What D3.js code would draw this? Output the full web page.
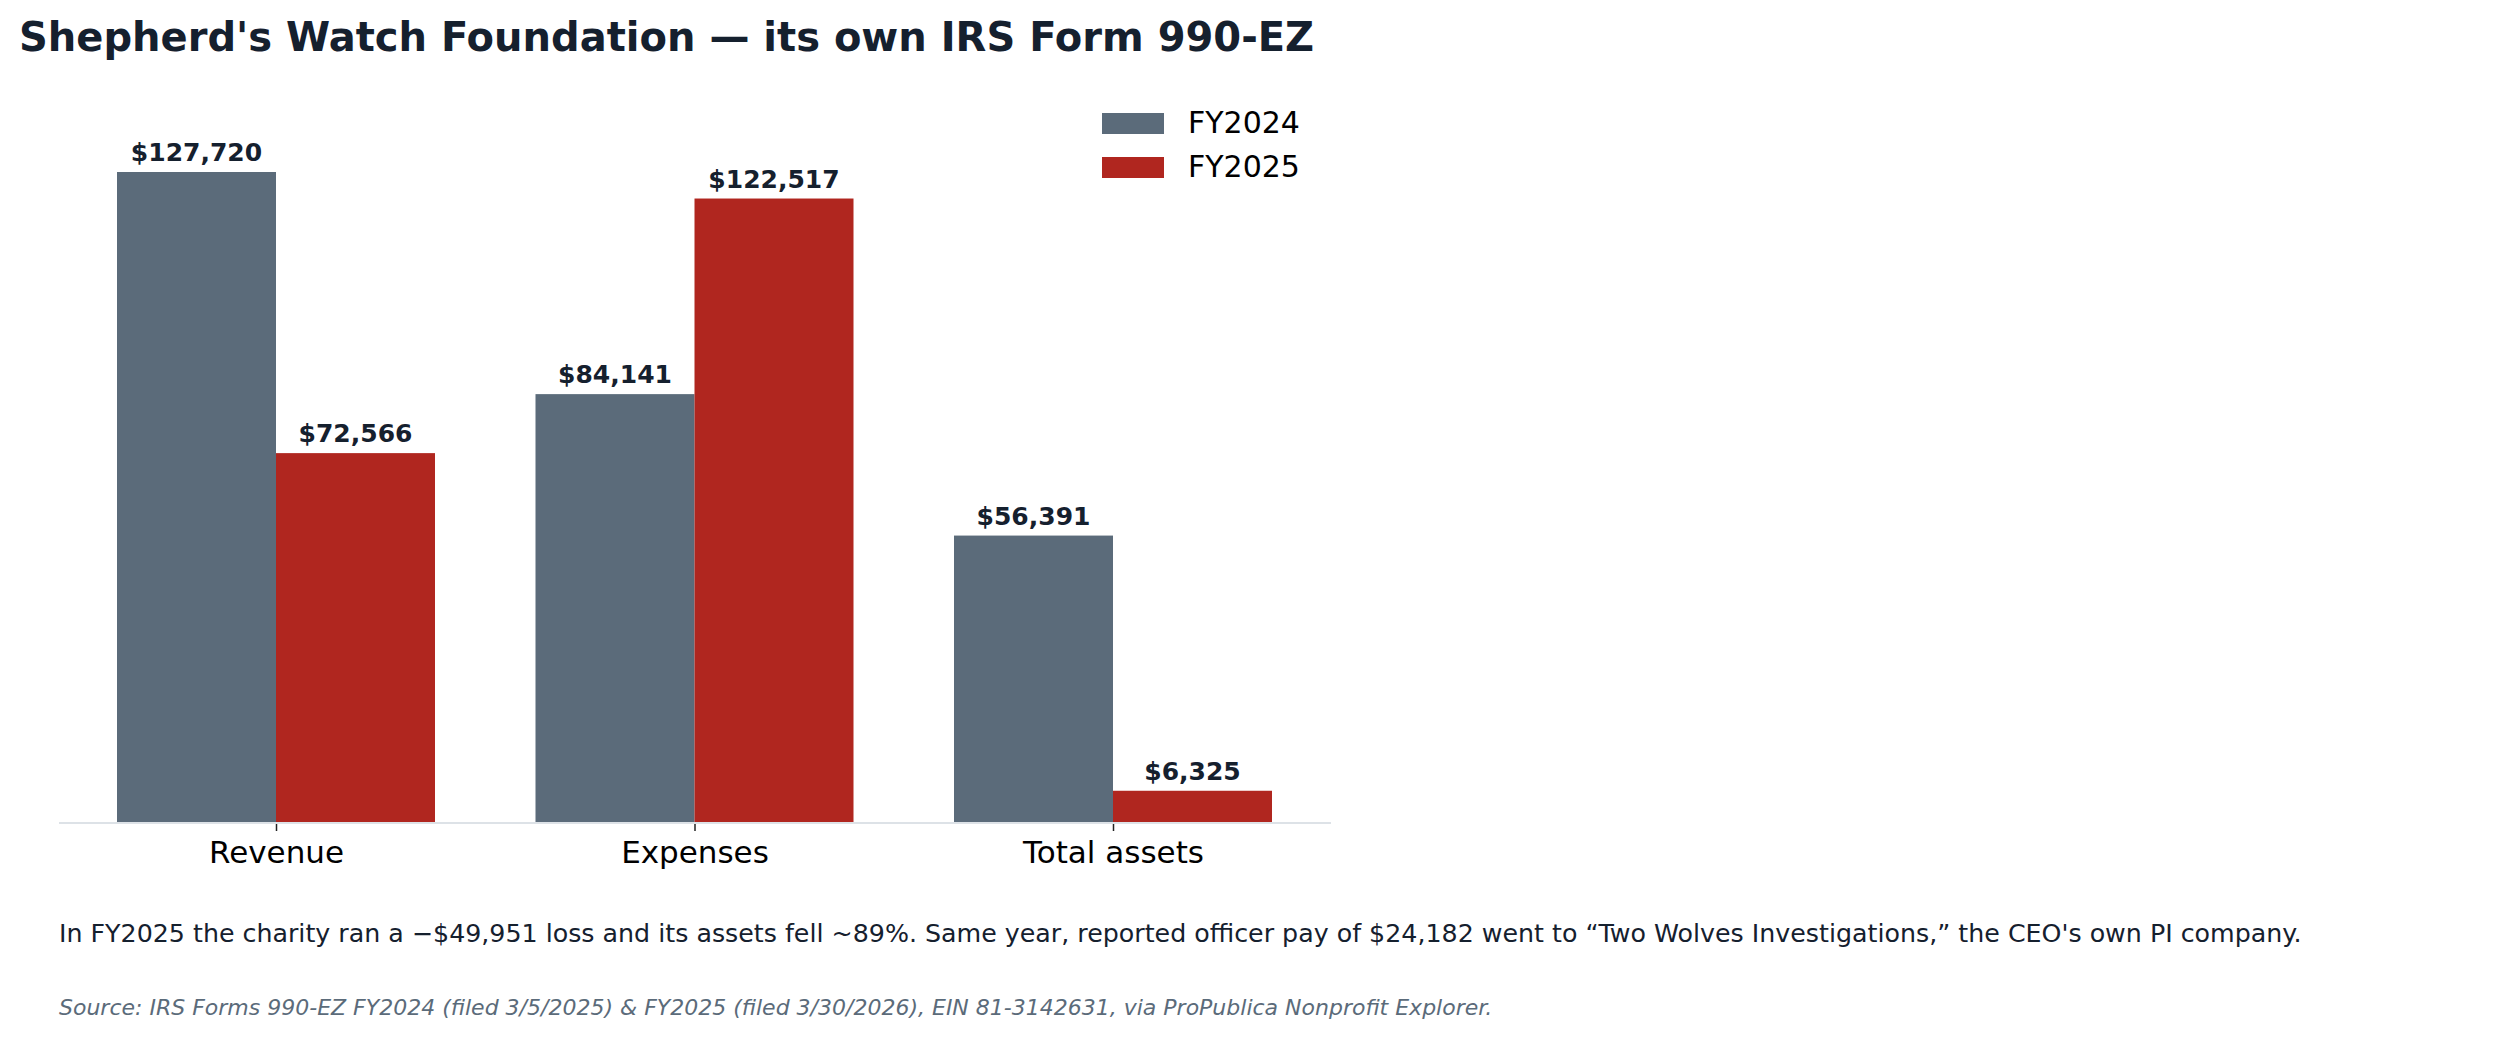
<!DOCTYPE html>
<html><head><meta charset="utf-8">
<script src="https://cdn.jsdelivr.net/npm/d3@7"></script>
<style>body{margin:0;background:#fff;} text{font-family:"DejaVu Sans",sans-serif;}</style>
</head><body><div class="chart"></div>
<script>
//Data
const categories = ["Revenue", "Expenses", "Total assets"];
const seriesNames = ["FY2024", "FY2025"];
const fy2024 = [127720, 84141, 56391];
const fy2025 = [72566, 122517, 6325];
const colors = ["#5b6b7a", "#b0261f"];

let chart = {};
chart.width = 2496; chart.height = 1040;

chart.svg = d3.select(".chart").append("svg")
    .attr("width", chart.width).attr("height", chart.height);

chart.svg.append("text").attr("x", 19).attr("y", 51)
    .attr("font-size", 40).attr("font-weight", "bold").attr("fill", "#15202e")
    .text("Shepherd's Watch Foundation \u2014 its own IRS Form 990-EZ");

//scales
chart.x = d3.scaleBand().domain(categories).range([117, 1271]).paddingInner(0.2).paddingOuter(0);
chart.x = d3.scalePoint().domain(categories).range([276, 1113]);
chart.y = d3.scaleLinear().domain([0, 127720]).range([823, 172]);
const bw = 159;

const rows = categories.map((c, i) => ({c, vals: [fy2024[i], fy2025[i]]}));

const g = chart.svg.selectAll("g.grp").data(rows).enter().append("g").attr("class", "grp");
g.selectAll("rect").data(d => d.vals.map((v, k) => ({c: d.c, v, k}))).enter().append("rect")
    .attr("x", d => chart.x(d.c) + (d.k - 1) * bw)
    .attr("y", d => chart.y(d.v))
    .attr("width", bw)
    .attr("height", d => chart.y(0) - chart.y(d.v))
    .attr("fill", d => colors[d.k]);
g.selectAll("text").data(d => d.vals.map((v, k) => ({c: d.c, v, k}))).enter().append("text")
    .attr("x", d => chart.x(d.c) + (d.k - 0.5) * bw)
    .attr("y", d => chart.y(d.v) - 11)
    .attr("text-anchor", "middle").attr("font-size", 25).attr("font-weight", "bold").attr("fill", "#15202e")
    .text(d => "$" + d3.format(",")(d.v));

//axis
chart.svg.append("line").attr("x1", 59).attr("x2", 1331).attr("y1", 823).attr("y2", 823)
    .attr("stroke", "#dde2e7").attr("stroke-width", 2);
const ax = chart.svg.append("g").attr("transform", "translate(0,824)")
    .call(d3.axisBottom(chart.x).tickSize(7).tickPadding(10));
ax.select(".domain").remove();
ax.selectAll("text").attr("font-size", 31).attr("fill", "#000").style("font-family", "DejaVu Sans");
ax.selectAll("line").attr("stroke", "#222").attr("stroke-width", 1.5);

//legend
const lg = chart.svg.selectAll("g.leg").data(seriesNames).enter().append("g")
    .attr("transform", (d, i) => `translate(1102,${113 + i * 44})`);
lg.append("rect").attr("width", 62).attr("height", 21).attr("fill", (d, i) => colors[i]);
lg.append("text").attr("x", 86).attr("y", 20).attr("font-size", 30).attr("fill", "#000").text(d => d);

chart.svg.append("text").attr("x", 59).attr("y", 942).attr("font-size", 25.3).attr("fill", "#15202e")
    .text("In FY2025 the charity ran a \u2212$49,951 loss and its assets fell ~89%. Same year, reported officer pay of $24,182 went to \u201cTwo Wolves Investigations,\u201d the CEO's own PI company.");
chart.svg.append("text").attr("x", 59).attr("y", 1015).attr("font-size", 22).attr("font-style", "italic").attr("fill", "#5b6b7a")
    .text("Source: IRS Forms 990-EZ FY2024 (filed 3/5/2025) & FY2025 (filed 3/30/2026), EIN 81-3142631, via ProPublica Nonprofit Explorer.");
</script></body></html>
